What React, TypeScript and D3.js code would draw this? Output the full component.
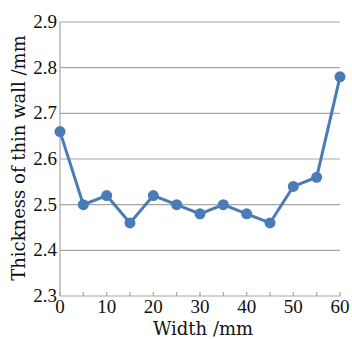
import React from "react";
import * as d3 from "d3";

const widths = [0, 5, 10, 15, 20, 25, 30, 35, 40, 45, 50, 55, 60];
const thickness = [2.66, 2.5, 2.52, 2.46, 2.52, 2.5, 2.48, 2.5, 2.48, 2.46, 2.54, 2.56, 2.78];
const xTicks = [0, 10, 20, 30, 40, 50, 60];
const xMinorTicks = [0, 5, 10, 15, 20, 25, 30, 35, 40, 45, 50, 55, 60];
const yTicks = [2.3, 2.4, 2.5, 2.6, 2.7, 2.8, 2.9];

const width = 352;
const height = 339;
const margin = { top: 22, right: 12, bottom: 43, left: 60 };
const lineColor = "#4a7bb7";
const gridColor = "#a6a6a6";
const tickFont = "'Liberation Serif', 'Times New Roman', serif";
const titleFont = "'DejaVu Serif', serif";

const App = () => {
  const x = d3
    .scaleLinear()
    .domain([0, 60])
    .range([margin.left, width - margin.right]);
  const y = d3
    .scaleLinear()
    .domain([2.3, 2.9])
    .range([height - margin.bottom, margin.top]);

  const line = d3
    .line<number>()
    .x((d, i) => x(widths[i]))
    .y((d) => y(d));

  const x0 = x(0);
  const x1 = x(60);
  const yBottom = y(2.3);

  return (
    <svg
      width={width}
      height={height}
      style={{ position: "absolute", left: 0, top: 0, background: "#fff" }}
    >
      {/* grid */}
      {yTicks.map((t) => (
        <line
          key={t}
          x1={x0}
          x2={x1}
          y1={y(t)}
          y2={y(t)}
          stroke={gridColor}
          strokeWidth={1.2}
        />
      ))}
      {/* axes */}
      <line x1={x0} x2={x0} y1={y(2.9)} y2={yBottom} stroke={gridColor} strokeWidth={1.2} />
      {xMinorTicks.map((t) => (
        <line
          key={t}
          x1={x(t)}
          x2={x(t)}
          y1={yBottom - 4}
          y2={yBottom}
          stroke={gridColor}
          strokeWidth={1.2}
        />
      ))}
      {yTicks.map((t) => (
        <text
          key={t}
          x={x0 - 3}
          y={y(t)}
          dy="0.32em"
          textAnchor="end"
          fontSize={19}
          fontFamily={tickFont}
          fill="#111"
        >
          {t.toFixed(1)}
        </text>
      ))}
      {xTicks.map((t) => (
        <text
          key={t}
          x={x(t)}
          y={yBottom + 17}
          textAnchor="middle"
          fontSize={19}
          fontFamily={tickFont}
          fill="#111"
        >
          {t}
        </text>
      ))}
      <text
        x={(x0 + x1) / 2 + 3}
        y={height - 4}
        textAnchor="middle"
        fontSize={18}
        fontFamily={titleFont}
        fill="#111"
      >
        Width /mm
      </text>
      <text
        transform={`translate(25, ${(y(2.9) + yBottom) / 2 - 1}) rotate(-90)`}
        textAnchor="middle"
        fontSize={18}
        fontFamily={titleFont}
        fill="#111"
      >
        Thickness of thin wall /mm
      </text>
      {/* series */}
      <path d={line(thickness) || ""} fill="none" stroke={lineColor} strokeWidth={3} />
      {thickness.map((v, i) => (
        <circle key={i} cx={x(widths[i])} cy={y(v)} r={5.5} fill={lineColor} />
      ))}
    </svg>
  );
};

export default App;
